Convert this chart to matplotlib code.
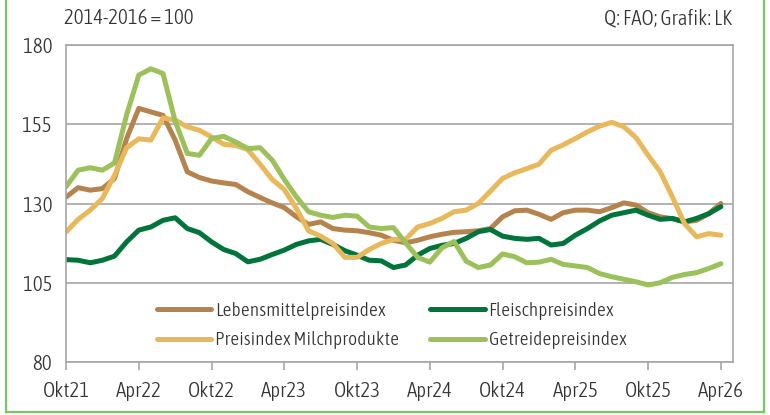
import numpy as np
import matplotlib
matplotlib.use("Agg")
import matplotlib.pyplot as plt
from matplotlib import font_manager
from matplotlib.font_manager import FontProperties
from matplotlib.lines import Line2D

# the original uses a narrow sans; look for a plain condensed face file
def pick_narrow():
    bad = ["italic", "bold", "black", "medium", "thin", "extra", "semi", "ultra", "oblique"]
    found = {}
    for f in font_manager.fontManager.ttflist:
        fn = f.fname.lower().split("/")[-1].replace("-", "").replace("_", "")
        if ("condensed" in fn or "narrow" in fn) and not any(b in fn for b in bad):
            found[fn] = f.fname
    for key in ["condensedlight", "condensed.", "condensedregular", "narrow"]:
        for fn, path in sorted(found.items()):
            if key in fn:
                return path
    return None

path = pick_narrow()
if path:
    fp = FontProperties(fname=path, size=15)
    fp_leg = FontProperties(fname=path, size=14)
else:
    fp = FontProperties(family="Roboto", size=13)
    fp_leg = FontProperties(family="Roboto", size=12.5)

# FAO indices, monthly, 2014-2016 = 100
tick_labels = ["Okt21", "Apr22", "Okt22", "Apr23", "Okt23",
               "Apr24", "Okt24", "Apr25", "Okt25", "Apr26"]
y_ticks = [80, 105, 130, 155, 180]

lebensmittel = [132.0, 135.0, 134.2, 134.7, 137.9, 150.5, 160.0, 158.9, 157.8, 150.0,
                140.0, 138.2, 137.1, 136.5, 136.0, 133.7, 131.9, 130.2, 128.7, 125.8,
                123.4, 124.2, 122.1, 121.6, 121.4, 120.8, 120.0, 118.4, 117.6, 118.4,
                119.5, 120.3, 120.9, 121.1, 121.4, 122.1, 125.8, 127.7, 127.9, 126.6,
                125.0, 127.1, 127.9, 127.9, 127.4, 128.7, 130.2, 129.5, 127.1, 125.8,
                125.2, 124.2, 124.7, 126.8, 130.0]

fleisch = [112.3, 112.1, 111.3, 112.1, 113.4, 117.9, 121.6, 122.6, 124.7, 125.5,
           122.1, 120.8, 117.9, 115.5, 114.2, 111.6, 112.4, 113.9, 115.3, 117.1,
           118.2, 118.7, 117.1, 115.1, 113.7, 112.1, 111.9, 109.8, 110.6, 113.7,
           115.8, 116.8, 117.4, 119.0, 121.1, 121.8, 119.7, 119.0, 118.7, 119.0,
           116.9, 117.4, 120.0, 122.1, 124.5, 126.3, 127.1, 127.9, 126.3, 125.0,
           125.3, 124.2, 125.3, 126.8, 129.0]

milch = [121.0, 125.0, 127.9, 131.6, 138.9, 147.6, 150.4, 150.0, 157.0, 156.3,
         154.2, 153.1, 151.0, 148.7, 148.3, 147.0, 142.4, 137.6, 134.4, 128.4,
         121.4, 119.7, 117.4, 113.0, 113.0, 115.5, 117.4, 118.7, 118.7, 122.6,
         123.7, 125.3, 127.4, 127.9, 130.0, 133.9, 137.9, 139.7, 141.0, 142.4,
         146.8, 148.5, 150.5, 152.6, 154.4, 155.6, 154.2, 150.8, 145.2, 140.0,
         132.1, 123.7, 119.5, 120.5, 120.0]

getreide = [135.3, 140.5, 141.3, 140.5, 142.8, 158.0, 170.5, 172.5, 171.0, 156.0,
            145.8, 145.2, 150.5, 151.2, 149.4, 147.3, 147.6, 143.7, 137.6, 132.1,
            127.4, 126.3, 125.6, 126.3, 126.0, 122.6, 122.1, 122.4, 117.6, 113.0,
            111.5, 116.0, 118.0, 111.8, 109.8, 110.6, 114.1, 113.2, 111.3, 111.5,
            112.4, 110.8, 110.3, 109.8, 107.9, 106.9, 106.1, 105.3, 104.3, 105.0,
            106.7, 107.6, 108.2, 109.5, 111.0]

c_leb = "#b5834e"
c_fle = "#00743a"
c_mil = "#e8b85b"
c_get = "#9cc05a"
grid_c = "#a6a6a6"
text_c = "#333333"

fig = plt.figure(figsize=(7.7, 4.15), dpi=100)
ax = fig.add_axes([66 / 770, 1 - 362 / 415, 667 / 770, 317 / 415])

months = np.arange(len(lebensmittel))
lw = 3.6
style = dict(lw=lw, solid_joinstyle="round", solid_capstyle="round")
l1, = ax.plot(months, lebensmittel, color=c_leb, **style)
l2, = ax.plot(months, fleisch, color=c_fle, **style)
l3, = ax.plot(months, milch, color=c_mil, **style)
l4, = ax.plot(months, getreide, color=c_get, **style)

ax.set_xlim(0, 55)
ax.set_ylim(80, 180)
ax.set_yticks(y_ticks)
ax.set_yticklabels([str(v) for v in y_ticks], fontproperties=fp, color=text_c)
ax.set_xticks(np.arange(0, 55, 6))
ax.set_xticklabels(tick_labels, fontproperties=fp, color=text_c)
ax.grid(axis="y", color=grid_c, lw=1.2)
ax.set_axisbelow(True)
for s in ax.spines.values():
    s.set_color(grid_c)
    s.set_linewidth(1.2)
ax.tick_params(axis="y", length=0, pad=10)
ax.tick_params(axis="x", length=6, width=1.2, color=grid_c, pad=8)

# Excel fills the legend row by row, matplotlib column by column
leg = ax.legend([l1, l3, l2, l4],
                ["Lebensmittelpreisindex", "Preisindex Milchprodukte",
                 "Fleischpreisindex", "Getreidepreisindex"],
                ncol=2, loc="upper left", bbox_to_anchor=(0.136, 0.19),
                frameon=False, prop=fp_leg, handlelength=2.8, handletextpad=0.2,
                columnspacing=1.6, labelspacing=0.6, borderpad=0, borderaxespad=0)
for t in leg.get_texts():
    t.set_color(text_c)

fig.text(64 / 770, 1 - 18 / 415, "2014-2016 = 100", ha="left", va="center",
         fontproperties=fp, color=text_c)
fig.text(732 / 770, 1 - 18 / 415, "Q: FAO; Grafik: LK", ha="right", va="center",
         fontproperties=fp, color=text_c)

# green frame round the picture
frame_c = "#7dc36b"
xl, xr, yb = 5.5 / 770, 764 / 770, 1 - 411.5 / 415
fig.add_artist(Line2D([xl, xl], [yb, 1.01], color=frame_c, lw=1.6))
fig.add_artist(Line2D([xr, xr], [yb, 1.01], color=frame_c, lw=1.6))
fig.add_artist(Line2D([xl, xr], [yb, yb], color=frame_c, lw=1.6))

fig.savefig("out.png", dpi=100)
